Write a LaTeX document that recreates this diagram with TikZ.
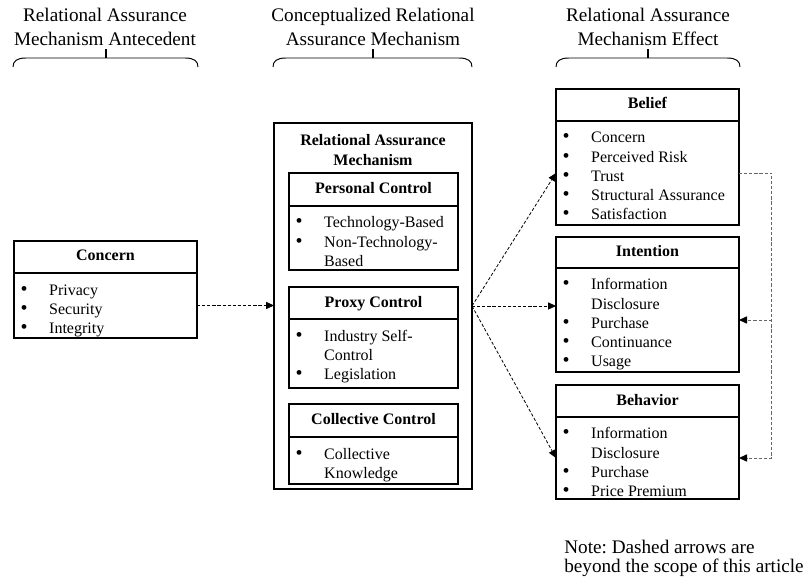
\documentclass[tikz,border=0pt]{standalone}
\usepackage{fontspec}
\setmainfont{Liberation Serif}
\usetikzlibrary{arrows.meta}
\frenchspacing
\newcommand\itm[1]{\makebox[17.8pt][l]{\fontsize{12.5}{12}\selectfont\textbullet}#1\\}
\newcommand\cnt[1]{\hspace*{17.8pt}#1\\}
\newcommand\rbox[8]{%
  \node[hdr, minimum width={(#5-#2)*0.625pt}, minimum height={(#4-#3)*0.625pt}] (#1h) at (#2,#3) {#7};
  \node[bodybox, minimum width={(#5-#2)*0.625pt}, minimum height={(#6-#4)*0.625pt}] (#1b) at (#1h.south west) {};
  \node[items] (#1t) at ([xshift=4pt, yshift=-13.75pt]#1b.north west) {\begin{tabular}[t]{@{}l@{}}#8\end{tabular}};
}
\newcommand\mybrace[3]{%
  \draw[line width=0.6pt] (#1,67) .. controls (#1,61) and (#1+4,58) .. (#1+13,58) -- (#2-13,58) .. controls (#2-4,58) and (#2,61) .. (#2,67);
  \draw[line width=0.9pt] (#3,58) -- (#3,49);
}
\begin{document}
\begin{tikzpicture}[x=0.625pt,y=-0.625pt,
  boxline/.style={line width=0.9pt},
  hdr/.style={draw, boxline, anchor=north west, inner sep=0pt, outer sep=0pt, font=\fontsize{10}{12}\selectfont\bfseries, text height=6.5pt, text depth=1.5pt},
  bodybox/.style={draw, boxline, anchor=north west, inner sep=0pt, outer sep=0pt},
  items/.style={anchor=base west, inner sep=0pt, font=\fontsize{10}{12}\selectfont},
  toptitle/.style={anchor=base, inner sep=0pt, font=\fontsize{12}{14.5}\selectfont},
  dasharrow/.style={line width=0.5pt, dash pattern=on 2pt off 1.2pt, -{Triangle[length=5pt,width=4.5pt]}},
  graydash/.style={line width=0.6pt, draw=black!60, dash pattern=on 2pt off 1.2pt, -{Triangle[length=5pt,width=4.5pt,black]}},
]
\useasboundingbox (0,0) rectangle (805,582);

% column titles
\node[toptitle] (t1) at (105,22) {\begin{tabular}[t]{@{}c@{}}Relational Assurance\\Mechanism Antecedent\end{tabular}};
\node[toptitle] (t2) at (373,22) {\begin{tabular}[t]{@{}c@{}}Conceptualized Relational\\Assurance Mechanism\end{tabular}};
\node[toptitle] (t3) at (648,22) {\begin{tabular}[t]{@{}c@{}}Relational Assurance\\Mechanism Effect\end{tabular}};
\mybrace{13}{198}{106}
\mybrace{273}{472}{373}
\mybrace{556}{740}{648}

% left
\rbox{concern}{14}{241}{273}{197}{338}{Concern}{\itm{Privacy}\itm{Security}\itm{Integrity}}

% middle
\node[draw, line width=0.8pt, anchor=north west, inner sep=0pt, outer sep=0pt, minimum width=198*0.625pt, minimum height=366*0.625pt] (ram) at (274,123) {};
\node[anchor=base, inner sep=0pt, font=\fontsize{10}{12}\selectfont\bfseries] (ramt) at (373,146) {\begin{tabular}[t]{@{}c@{}}Relational Assurance\\Mechanism\end{tabular}};
\rbox{pers}{289}{173}{206}{458}{270}{Personal Control}{\itm{Technology-Based}\itm{Non-Technology-}\cnt{Based}}
\rbox{proxy}{289}{287}{319}{458}{388}{Proxy Control}{\itm{Industry Self-}\cnt{Control}\itm{Legislation}}
\rbox{coll}{289}{404}{437}{458}{484}{Collective Control}{\itm{Collective}\cnt{Knowledge}}

% right
\rbox{belief}{556}{89}{121}{739}{225}{Belief}{\itm{Concern}\itm{Perceived Risk}\itm{Trust}\itm{Structural Assurance}\itm{Satisfaction}}
\rbox{intent}{556}{237}{268}{739}{372}{Intention}{\itm{Information}\cnt{Disclosure}\itm{Purchase}\itm{Continuance}\itm{Usage}}
\rbox{behav}{556}{385}{417}{739}{499}{Behavior}{\itm{Information}\cnt{Disclosure}\itm{Purchase}\itm{Price Premium}}

% connectors
\draw[dasharrow] (concernb.east) -- (concernb.east -| ram.west);
\draw[dasharrow] (ram.east) -- (beliefb.west);
\draw[dasharrow] (ram.east) -- (ram.east -| intentb.west);
\draw[dasharrow] (ram.east) -- (behavb.west);
\coordinate (rc) at ([xshift=20.6pt]beliefb.east);
\draw[graydash] (beliefb.east) -- (rc) |- (behavb.east);
\draw[graydash] (rc |- intentb.east) -- (intentb.east);

% note
\node[anchor=base west, inner sep=0pt, font=\fontsize{12}{11.9}\selectfont] (note) at (564,553) {\begin{tabular}[t]{@{}l@{}}Note: Dashed arrows are\\beyond the scope of this article\end{tabular}};
\end{tikzpicture}
\end{document}
